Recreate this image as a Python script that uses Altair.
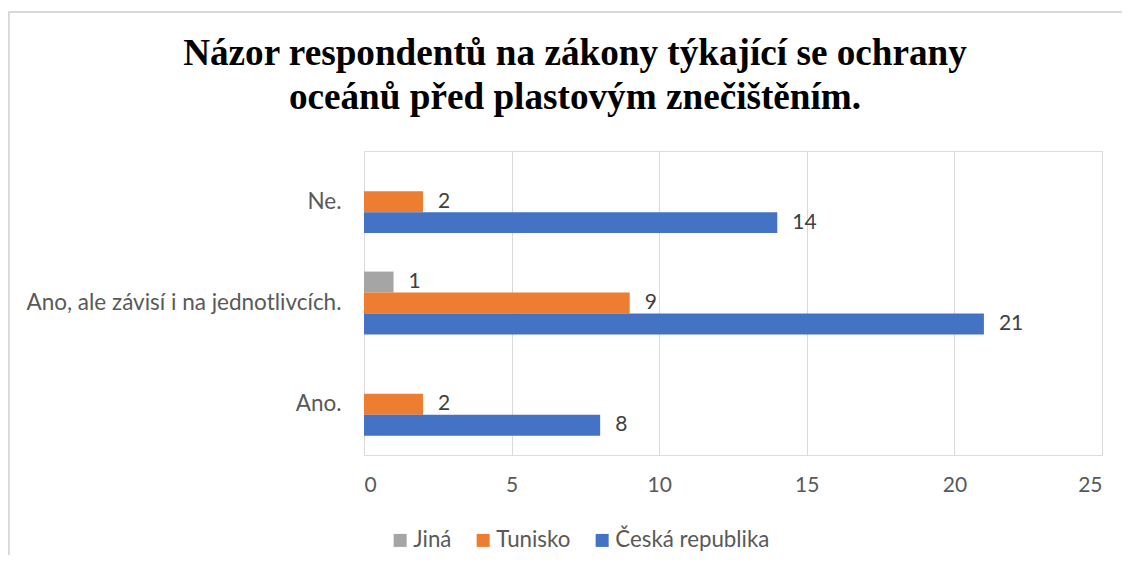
import altair as alt
import pandas as pd

categories = ["Ne.", "Ano, ale závisí i na jednotlivcích.", "Ano."]
series = ["Jiná", "Tunisko", "Česká republika"]
jina = [0, 1, 0]
tunisko = [2, 9, 2]
ceska = [14, 21, 8]
colors = ["#a5a5a5", "#ed7d31", "#4472c4"]
x_ticks = [0, 5, 10, 15, 20, 25]
title_lines = ["Názor respondentů na zákony týkající se ochrany",
               "oceánů před plastovým znečištěním."]

rows = []
for s, vals in zip(series, [jina, tunisko, ceska]):
    for c, v in zip(categories, vals):
        if v > 0:
            rows.append({"cat": c, "series": s, "value": v})
df = pd.DataFrame(rows)

FONT = "Lato"

y_enc = alt.Y("cat:N", sort=categories,
              scale=alt.Scale(domain=categories, paddingInner=0.38, paddingOuter=0.19),
              axis=alt.Axis(title=None, domain=False, ticks=False, grid=False,
                            labelPadding=23, labelFontSize=22.5, labelColor="#595959",
                            labelFont=FONT, labelLimit=400))
yoff = alt.YOffset("series:N", sort=series, scale=alt.Scale(domain=series))
x_enc = alt.X("value:Q",
              scale=alt.Scale(domain=[0, 25], nice=False),
              axis=alt.Axis(title=None, values=x_ticks, domain=False, ticks=False,
                            grid=True, gridColor="#d9d9d9", gridWidth=1,
                            labelPadding=19, labelFontSize=21, labelColor="#595959",
                            labelFont=FONT))

bars = alt.Chart(df).mark_bar().encode(
    x=x_enc, y=y_enc, yOffset=yoff,
    color=alt.Color("series:N", sort=series,
                    scale=alt.Scale(domain=series, range=colors),
                    legend=alt.Legend(title=None, orient="none", legendX=25, legendY=378,
                                      direction="horizontal", symbolType="square",
                                      symbolSize=169, symbolStrokeWidth=0,
                                      labelFontSize=22.3, labelColor="#595959", labelFont=FONT,
                                      labelOffset=2, columnPadding=20, padding=0)),
)

labels = alt.Chart(df).mark_text(align="left", baseline="middle", dx=15,
                                 fontSize=21, color="#404040", font=FONT).encode(
    x="value:Q", y=alt.Y("cat:N", sort=categories), yOffset=yoff,
    text=alt.Text("value:Q"),
)

frame_v = alt.Chart(df).mark_rule(color="#d9d9d9", strokeWidth=1.5).encode(
    x=alt.value(-355.5), y=alt.value(-139), y2=alt.value(500))
frame_h = alt.Chart(df).mark_rule(color="#d9d9d9", strokeWidth=1.5).encode(
    x=alt.value(-355.5), x2=alt.value(900), y=alt.value(-139))

chart = alt.layer(frame_v, frame_h, bars, labels).properties(
    width=738, height=304,
    title=alt.TitleParams(text=title_lines, font="Liberation Serif", fontSize=37.2,
                          fontWeight="bold", color="#000000", anchor="middle",
                          baseline="alphabetic", frame="group", dx=-158, offset=-135,
                          lineHeight=44),
    autosize=alt.AutoSizeParams(type="none"),
    padding={"left": 356, "top": 143, "right": 20, "bottom": 100},
).configure_view(stroke="transparent", strokeWidth=0).configure(background="white")

chart.save("out.html", embed_options={"renderer": "svg", "actions": False})
